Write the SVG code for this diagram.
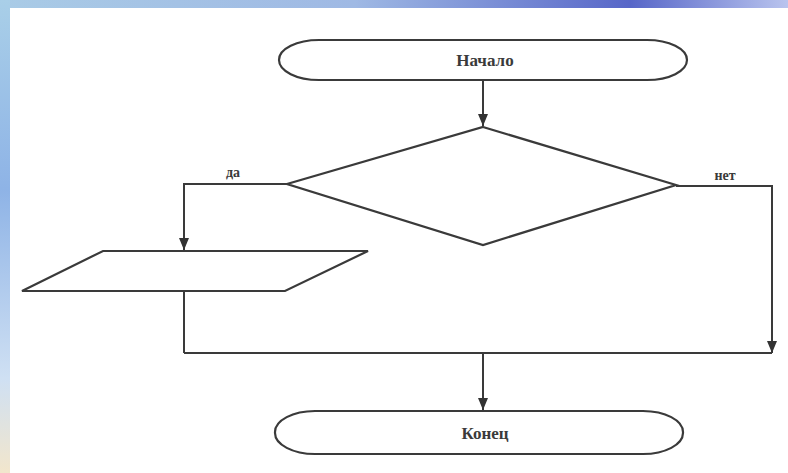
<svg xmlns="http://www.w3.org/2000/svg" width="788" height="473" viewBox="0 0 788 473">
<defs>
<linearGradient id="topg" x1="0" y1="0" x2="1" y2="0">
<stop offset="0" stop-color="#a9cbe6"/>
<stop offset="0.45" stop-color="#9fb9e4"/>
<stop offset="0.8" stop-color="#5766c8"/>
<stop offset="1" stop-color="#b9c4ee"/>
</linearGradient>
<linearGradient id="leftg" x1="0" y1="0" x2="0" y2="1">
<stop offset="0" stop-color="#a9cfe8"/>
<stop offset="0.4" stop-color="#8eb3e6"/>
<stop offset="0.8" stop-color="#cfe0f3"/>
<stop offset="1" stop-color="#f2e6cc"/>
</linearGradient>
<marker id="ah" viewBox="0 0 12 10" refX="12" refY="5" markerWidth="12" markerHeight="10" markerUnits="userSpaceOnUse" orient="auto">
<path d="M0,0 L12,5 L0,10 Z" fill="#333"/>
</marker>
</defs>
<style>
.shape{fill:#fff;stroke:#3a3a3a;stroke-width:2.2}
.conn{fill:none;stroke:#3a3a3a;stroke-width:2}
.t{font-family:"Liberation Serif","DejaVu Serif",serif;font-weight:bold;fill:#3a3a3a;text-anchor:middle}
</style>
<rect x="0" y="0" width="788" height="473" fill="#ffffff"/>
<rect x="0" y="0" width="788" height="8" fill="url(#topg)"/>
<rect x="0" y="0" width="10" height="473" fill="url(#leftg)"/>

<g id="start">
<rect class="shape" x="279" y="40" width="408" height="40" rx="40" ry="20"/>
<text class="t" x="485" y="66" font-size="17">Начало</text>
</g>
<g id="decision">
<polygon class="shape" points="483,127 676,185 483,245 287,184"/>
</g>
<g id="io">
<polygon class="shape" points="103,251 368,251 285,291 22,291"/>
</g>
<g id="end">
<rect class="shape" x="275" y="411" width="408" height="43" rx="40" ry="21"/>
<text class="t" x="485" y="439" font-size="17">Конец</text>
</g>
<g id="connectors">
<line class="conn" x1="483" y1="81" x2="483" y2="126" marker-end="url(#ah)"/>
<polyline class="conn" points="287,184 184,184 184,250" marker-end="url(#ah)"/>
<line class="conn" x1="184" y1="292" x2="184" y2="353"/>
<line class="conn" x1="184" y1="353" x2="772" y2="353"/>
<polyline class="conn" points="676,186 772,186 772,353" marker-end="url(#ah)"/>
<line class="conn" x1="483" y1="353" x2="483" y2="410" marker-end="url(#ah)"/>
<text class="t" x="233" y="177" font-size="14">да</text>
<text class="t" x="725" y="180" font-size="14">нет</text>
</g>
</svg>
